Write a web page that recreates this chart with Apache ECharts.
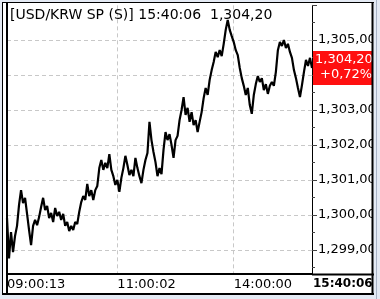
<!DOCTYPE html>
<html><head><meta charset="utf-8">
<script src="https://cdn.jsdelivr.net/npm/echarts@6/dist/echarts.min.js"></script>
<style>html,body{margin:0;padding:0;background:#fff}#c{width:380px;height:299px}</style>
</head><body><div id="c"></div>
<script>
const pairName = 'USD/KRW SP (S)';
const lastTime = '15:40:06';
const lastPrice = 1304.20;
const changePct = 0.72;
const timeLabels = ['09:00:13', '11:00:02', '14:00:00'];
const timeLabelIndex = [0, 55, 113];
const yMin = 1298.31, yMax = 1305.99;
const prices = [
1299.91,1298.76,1299.51,1298.94,1299.40,1299.69,1300.29,1300.71,1300.34,1300.49,
1300.03,1299.57,1299.14,1299.69,1299.86,1299.71,1299.94,1300.23,1300.49,1300.14,
1300.26,1299.91,1300.06,1299.80,1300.20,1299.97,1300.09,1299.86,1300.03,1299.69,
1299.80,1299.54,1299.69,1299.57,1299.80,1299.74,1300.09,1300.37,1300.54,1300.43,
1300.89,1300.54,1300.71,1300.43,1300.71,1300.83,1301.34,1301.57,1301.29,1301.49,
1301.34,1301.74,1301.29,1301.11,1300.86,1301.00,1300.66,1301.06,1301.34,1301.69,
1301.43,1301.14,1301.29,1301.11,1301.63,1301.34,1301.11,1300.91,1301.29,1301.57,
1301.77,1302.66,1302.14,1301.80,1301.51,1301.11,1301.34,1301.17,1301.86,1302.37,
1302.14,1302.31,1302.00,1301.63,1302.14,1302.26,1302.71,1303.00,1303.37,1302.86,
1303.06,1302.66,1302.94,1302.57,1302.71,1302.37,1302.66,1302.94,1303.34,1303.63,
1303.43,1303.86,1304.14,1304.37,1304.66,1304.51,1304.71,1304.54,1304.89,1305.29,
1305.57,1305.29,1305.11,1304.94,1304.71,1304.57,1304.20,1303.91,1303.69,1303.43,
1303.63,1303.14,1302.89,1303.43,1303.74,1303.97,1303.80,1303.91,1303.57,1303.74,
1303.46,1303.69,1303.80,1303.69,1304.09,1304.71,1304.94,1304.83,1305.00,1304.77,
1304.89,1304.66,1304.49,1304.14,1303.91,1303.63,1303.37,1303.71,1304.09,1304.43,
1304.26,1304.49,1304.20
];
const categories = prices.map((_, i) => 't' + i);

function fmt(v) {
  const parts = v.toFixed(2).split('.');
  const ip = parts[0].replace(/\B(?=(\d{3})+(?!\d))/g, ',');
  return ip + ',' + parts[1];
}

const FONT = '"DejaVu Sans", sans-serif';
const chart = echarts.init(document.getElementById('c'), null, {renderer: 'canvas'});
chart.setOption({
  animation: false,
  backgroundColor: '#fff',
  grid: {left: 7, right: 68, top: 5.35, bottom: 24.85, containLabel: false},
  xAxis: {
    type: 'category',
    data: categories,
    boundaryGap: false,
    axisLine: {show: true, lineStyle: {color: '#000', width: 2}},
    axisTick: {show: false},
    axisLabel: {
      interval: (i) => timeLabelIndex.indexOf(i) >= 0,
      formatter: (val, i) => { const k = timeLabelIndex.indexOf(i); return k >= 0 ? timeLabels[k] : ''; },
      align: 'left', margin: 4, fontSize: 13, fontFamily: FONT, color: '#000'
    },
    splitLine: {
      show: true,
      interval: (i) => i === timeLabelIndex[1] || i === timeLabelIndex[2],
      lineStyle: {color: '#c8c8c8', type: [4, 3], width: 1}
    }
  },
  yAxis: {
    type: 'value',
    position: 'right',
    min: yMin, max: yMax,
    minInterval: 1, maxInterval: 1,
    axisLine: {show: true, lineStyle: {color: '#000', width: 1}},
    axisTick: {show: true, length: 5, lineStyle: {color: '#444'}},
    minorTick: {show: true, splitNumber: 2, length: 3, lineStyle: {color: '#444'}},
    axisLabel: {
      margin: 6, fontSize: 13, fontFamily: FONT, color: '#000',
      showMinLabel: false, showMaxLabel: false,
      formatter: (v) => fmt(v)
    },
    splitLine: {show: true, showMinLine: false, showMaxLine: false,
      lineStyle: {color: '#c8c8c8', type: [4, 3], width: 1}}
  },
  series: [{
    type: 'line',
    data: prices,
    showSymbol: false,
    lineStyle: {color: '#000', width: 2.2},
    z: 5
  }]
});

const py = chart.convertToPixel({yAxisIndex: 0}, lastPrice);
const Z = 200;
chart.setOption({
  graphic: [
    {type: 'text', left: 10, top: 8, z: Z, style: {text: '[' + pairName + '] ' + lastTime + '  ' + fmt(lastPrice), fontSize: 14, fontFamily: FONT, fill: '#000'}},
    {type: 'rect', shape: {x: 313, y: py - 17, width: 59, height: 34}, style: {fill: '#ff1010'}, z: Z},
    {type: 'text', x: 315, y: py - 8, z: Z + 1, style: {text: fmt(lastPrice), fontSize: 13, fontFamily: FONT, fill: '#fff', verticalAlign: 'middle'}},
    {type: 'text', x: 320, y: py + 7, z: Z + 1, style: {text: '+' + changePct.toFixed(2).replace('.', ',') + '%', fontSize: 13, fontFamily: FONT, fill: '#fff', verticalAlign: 'middle'}},
    {type: 'text', x: 313, y: 284, z: Z, style: {text: lastTime, fontSize: 12, fontWeight: 'bold', fontFamily: FONT, fill: '#000', verticalAlign: 'middle'}},
    {type: 'rect', shape: {x: 373, y: 0, width: 7, height: 299}, style: {fill: '#e4eaf4'}, z: Z + 2},
    {type: 'rect', shape: {x: 0, y: 0, width: 2, height: 299}, style: {fill: '#e4eaf4'}, z: Z + 2},
    {type: 'rect', shape: {x: 0, y: 0, width: 380, height: 2}, style: {fill: '#e4eaf4'}, z: Z + 2},
    {type: 'rect', shape: {x: 0, y: 295, width: 380, height: 4}, style: {fill: '#e4eaf4'}, z: Z + 2},
    {type: 'line', shape: {x1: 2, y1: 2.5, x2: 374, y2: 2.5}, style: {stroke: '#000', lineWidth: 1}, z: Z + 3},
    {type: 'line', shape: {x1: 2.5, y1: 2, x2: 2.5, y2: 295}, style: {stroke: '#000', lineWidth: 1}, z: Z + 3},
    {type: 'line', shape: {x1: 7, y1: 2, x2: 7, y2: 295}, style: {stroke: '#000', lineWidth: 2}, z: Z + 3},
    {type: 'line', shape: {x1: 372.5, y1: 2, x2: 372.5, y2: 295}, style: {stroke: '#000', lineWidth: 2}, z: Z + 3},
    {type: 'line', shape: {x1: 376.5, y1: 0, x2: 376.5, y2: 299}, style: {stroke: '#a8b3c6', lineWidth: 1}, z: Z + 3},
    {type: 'line', shape: {x1: 2, y1: 294, x2: 374, y2: 294}, style: {stroke: '#000', lineWidth: 2}, z: Z + 3},
    {type: 'line', shape: {x1: 312, y1: 274.5, x2: 374, y2: 274.5}, style: {stroke: '#000', lineWidth: 2}, z: Z + 3}
  ]
});
</script>
</body></html>
